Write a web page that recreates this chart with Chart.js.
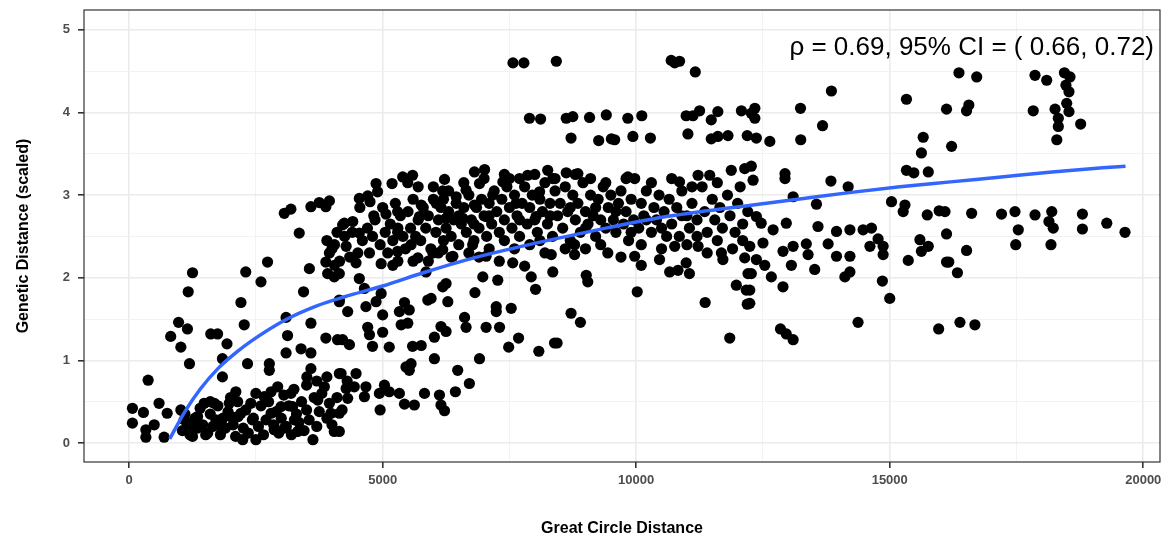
<!DOCTYPE html>
<html>
<head>
<meta charset="utf-8">
<script src="https://cdn.jsdelivr.net/npm/chart.js@4"></script>
<style>
  html, body { margin: 0; padding: 0; background: #fff; }
  #wrap { width: 1170px; height: 540px; }
</style>
</head>
<body>
<div id="wrap"><canvas id="ibd" width="1170" height="540"></canvas></div>
<script>
// great circle distance vs scaled genetic distance, one pair per population pair
const pairs = [
  [65,0.42],[65,0.24],[282,0.37],[330,0.16],[330,0.07],[375,0.76],[495,0.22],[590,0.48],[690,0.07],[750,0.36],
  [820,1.29],[975,1.46],[1020,1.16],[1150,1.38],[1165,1.83],[1190,0.96],[1250,2.06],[1020,0.40],[1085,0.28],[1215,0.20],
  [1250,0.08],[1350,0.32],[1480,0.48],[1510,0.10],[1610,1.32],[1745,1.32],[1680,0.48],[1710,0.28],[1810,0.20],[1840,1.02],
  [1840,0.80],[1930,1.20],[1975,0.48],[2010,0.32],[2105,0.62],[2140,0.50],[2205,1.70],[2240,0.04],[2270,1.43],[2300,2.07],
  [2335,0.96],[2205,0.36],[2400,0.48],[2430,0.28],[2500,0.04],[2600,1.95],[2665,0.56],[2730,2.19],[2765,0.96],[2765,0.88],
  [2800,0.36],[2860,0.16],[2930,0.68],[2995,0.44],[3060,0.18],[3095,1.52],[3095,1.09],[3125,1.30],[3190,0.60],[3225,0.44],
  [3260,0.28],[3325,0.14],[3390,1.14],[3440,1.83],[3505,0.80],[3555,2.11],[3585,1.45],[3585,1.09],[3585,0.90],[3625,0.04],
  [3720,0.52],[3850,0.68],[3880,2.19],[3880,1.27],[3915,2.05],[3980,0.36],[4045,2.01],[4045,0.14],[4110,1.25],[4145,0.84],
  [4145,1.71],
  [1050,0.15],[1100,0.35],[1150,0.25],[1200,0.10],[1300,0.30],[1350,0.18],[1400,0.42],[1450,0.22],[1550,0.12],[1600,0.35],
  [1650,0.20],[1750,0.45],[1800,0.10],[1850,0.30],[1900,0.18],[1950,0.38],[2050,0.22],[2100,0.08],[2150,0.32],[2250,0.18],
  [2300,0.40],[2350,0.12],[2450,0.30],[2550,0.20],[2600,0.45],[2650,0.10],[2700,0.28],[2750,0.50],[2850,0.22],[2900,0.38],
  [2950,0.12],[3000,0.30],[3100,0.20],[3150,0.45],[3200,0.10],[3300,0.35],[3350,0.25],[3400,0.50],[3450,0.15],[3500,0.40],
  [3550,0.28],[3650,0.55],[3700,0.20],[3750,0.38],[3800,0.60],[3900,0.30],[3950,0.48],[4000,0.22],[4100,0.55],[4200,0.40],
  [1600,0.50],[2000,0.55],[2500,0.60],[2800,0.62],[3050,0.58],[3250,0.65],[3500,0.70],[3700,0.75],[3900,0.80],[4300,0.75],
  [3060,2.78],[3190,2.83],[3585,2.86],[3750,2.91],[3950,2.93],[3880,2.86],[3355,2.54],[4210,2.64],
  [3900,2.45],[4000,2.35],[4100,2.55],[4050,2.15],[3950,2.30],[4050,2.40],[4150,2.20],[4250,2.50],[4400,2.55],[4350,2.25],
  [4550,2.85],[4750,2.92],
  [7570,4.60],[7785,4.60],[8425,4.62],[7895,3.93],[8115,3.92],[4245,2.66],[4410,2.68],[4540,2.54],[4540,2.96],[4705,2.99],
  [4870,3.14],[4900,3.04],[5185,3.14],[5395,3.22],[5590,3.24],[5495,3.15],[4825,2.75],[5065,2.77],[5295,2.80],[5295,2.55],
  [6220,3.19],[6185,3.05],[6810,3.28],[7010,3.31],[6910,3.14],[7370,3.16],[7500,3.20],[7860,3.24],[8255,3.30],[8355,3.20],
  [5760,2.88],[6055,2.90],[6450,2.98],[6645,3.06],[6810,2.88],[7170,3.00],[5725,2.74],[6250,2.72],[6580,2.72],[7040,2.74],
  [7630,2.90],[8095,3.04],[8025,2.74],
  [4280,2.38],[4510,2.30],[4740,2.30],[4475,2.18],[4970,2.17],[5295,2.32],[5200,2.15],[5560,2.40],[5695,2.24],[5855,2.07],
  [5990,2.30],[6185,2.34],[6385,2.26],[6775,2.40],[7040,2.26],[6975,2.01],[7270,1.97],[7565,2.18],[7800,2.14],[7930,2.01],
  [8015,1.86],[8325,2.28],[8355,2.07],[4145,2.05],[4145,1.73],[4310,1.59],[4540,1.99],[4640,1.87],[4670,1.65],[4870,1.71],
  [4970,1.81],[5000,1.55],[4705,1.40],[4740,1.31],[5000,1.34],[4800,1.17],[5130,1.16],[4210,1.25],[4345,1.19],[5330,1.59],
  [5430,1.70],[5525,1.61],[5365,1.43],[5495,1.45],[5590,1.17],[5760,1.18],[5890,1.73],[5955,1.75],[6185,1.89],[6250,1.93],
  [6285,1.71],[6020,1.28],[6150,1.41],[6250,1.35],[6020,1.02],[5460,0.92],[5560,0.96],[5525,0.88],[6480,0.88],[6615,1.52],
  [6645,1.40],[6820,1.82],[6910,1.02],[6710,0.72],[6435,0.62],[6120,0.58],[6150,0.46],[6220,0.39],[5825,0.60],[5625,0.46],
  [5430,0.47],[5330,0.60],[5130,0.62],[5035,0.70],[4935,0.60],[4950,0.40],[4670,0.68],[4640,0.56],[4475,0.84],[4440,0.68],
  [4280,0.66],[4310,0.54],[4180,0.84],[4145,0.36],[4145,0.14],[7040,1.40],[7305,1.40],[7240,1.65],[7240,1.59],[7535,1.63],
  [7485,1.16],[7680,1.27],[8080,1.11],[8390,1.21],
  [10690,4.63],[10855,4.62],[10760,4.60],[11165,4.49],[8620,3.93],[8750,3.95],[9080,3.94],[9410,3.97],[9835,3.93],[10110,3.96],
  [10985,3.96],[11120,3.96],[11250,4.02],[11480,3.91],[11610,4.01],[12075,4.02],[12270,3.99],[8715,3.69],[9260,3.66],[9510,3.68],
  [9575,3.67],[9935,3.71],[10280,3.69],[11020,3.74],[11480,3.68],[11610,3.71],[11810,3.72],[12190,3.72],[8620,3.27],[8850,3.26],
  [9835,3.22],[9970,3.20],[10855,3.16],[11220,3.24],[11450,3.24],[11875,3.30],[12140,3.32],[12270,3.35],
  [8785,2.40],[8785,2.28],[9015,2.03],[9045,1.95],[8715,1.57],[8900,1.46],[8440,1.21],[9440,2.30],[9970,2.26],[10100,2.15],
  [10020,1.83],[10460,2.22],[10660,2.07],[10825,2.09],[10985,2.18],[11050,2.05],[10760,2.38],[11220,2.38],[11360,1.70],[11680,2.30],
  [11710,2.22],[11845,1.27],[11975,1.91],[12170,1.85],[12190,1.68],[12140,2.24],[12205,2.05],[12240,2.38],
  [12340,4.05],[12340,3.93],[12370,3.69],[12635,3.65],[13240,4.05],[13850,4.26],[13675,3.84],[13245,3.67],[12305,3.18],[12935,3.26],
  [12935,3.20],[13840,3.17],[14180,3.10],[13095,2.98],[13555,2.89],[15330,4.16],[15660,3.70],[15625,3.51],[15330,3.30],[15475,3.27],
  [15760,3.28],[15035,2.92],[15300,2.88],[15265,2.80],[15740,2.76],[15975,2.81],[16120,2.53],[12370,2.74],[12465,2.66],[12700,2.58],
  [12960,2.66],[13585,2.62],[13950,2.56],[14215,2.58],[14475,2.58],[14640,2.60],[14770,2.47],[15595,2.46],
  [12500,2.42],[12370,2.22],[12535,2.15],[12665,2.01],[12895,1.89],[12270,2.05],[12240,1.85],[12240,1.69],[12895,2.32],[13060,2.15],
  [13095,2.38],[13390,2.28],[13520,2.10],[13355,2.41],[13785,2.41],[13950,2.26],[14215,2.26],[14115,2.01],[14215,2.07],[14610,2.38],
  [14870,2.38],[14870,2.28],[14855,1.96],[15000,1.75],[15365,2.21],[15625,2.32],[15760,2.38],[16120,2.19],[12845,1.38],[12960,1.32],
  [13095,1.25],[14375,1.46],[15965,1.38],
  [16365,4.48],[16715,4.43],[17865,4.45],[18095,4.39],[18445,4.48],[18555,4.43],[18475,4.33],[18535,4.25],[16120,4.04],[16515,4.02],
  [16560,4.09],[17830,4.02],[18260,4.04],[18490,4.11],[18535,4.01],[18325,3.93],[18325,3.83],[18765,3.86],[18295,3.67],[16220,3.59],
  [16615,2.78],[17205,2.77],[17470,2.80],[17865,2.76],[18195,2.80],[18140,2.68],[18225,2.60],[17535,2.58],[18800,2.77],[18800,2.59],
  [19280,2.66],[19640,2.55],[16090,2.80],
  [17485,2.40],[18180,2.40],[16515,2.33],[16165,2.19],[16335,2.06],[16385,1.46],[16680,1.43],
  // the crowded band between 4500 and 12300 km
  [4600,2.45],[4700,2.60],[4800,2.50],[4850,2.70],[4950,2.40],[5000,2.85],[5050,2.55],[5100,2.30],[5150,2.65],[5200,2.45],
  [5250,2.90],[5300,2.60],[5350,2.75],[5400,2.50],[5450,2.35],[5500,2.80],[5550,2.60],[5600,2.95],[5650,2.50],[5700,2.70],
  [5750,2.45],[5800,2.85],[5850,2.60],[5900,2.75],[5950,2.35],[6000,2.95],[6050,2.55],[6100,2.70],[6150,2.85],[6200,2.45],
  [6250,2.60],[6300,2.80],[6350,2.50],[6400,2.70],[6450,2.90],[6500,2.40],[6550,2.65],[6600,2.85],[6650,2.55],[6700,3.00],
  [6750,2.70],[6800,2.45],[6850,2.85],[6900,2.60],[6950,2.95],[7000,2.75],[7050,2.50],[7100,2.90],[7150,2.65],[7200,3.05],
  [7250,2.80],[7300,2.55],[7350,2.95],[7400,2.70],[7450,3.10],[7500,2.85],[7550,2.60],[7600,3.00],[7650,2.75],[7700,2.50],
  [7750,2.90],[7800,3.10],[7850,2.65],[7900,2.85],[7950,3.00],[8000,2.70],[8050,2.55],[8100,2.95],[8150,2.80],[8200,3.15],
  [8250,2.65],[8300,2.90],[8350,2.50],[8400,3.05],[8450,2.75],[8500,2.90],[8550,2.60],[8600,3.10],[8650,2.80],[8700,2.45],
  [8750,3.00],[8800,2.70],[8850,2.90],[8900,2.55],[8950,3.15],[9000,2.80],[9050,2.65],[9100,3.00],[9150,2.75],[9200,2.50],
  [9250,2.95],[9300,2.70],[9350,3.10],[9400,2.60],[9450,2.85],[9500,3.00],[9550,2.70],[9600,2.55],[9650,2.90],[9700,3.05],
  [9750,2.65],[9800,2.80],[9850,2.45],[9900,2.95],[9950,2.70],[10050,2.60],[10100,2.90],[10150,2.75],[10200,3.05],[10300,2.55],
  [10350,2.85],[10400,2.70],[10450,3.00],[10500,2.60],[10550,2.80],[10650,2.95],[10700,2.65],[10800,2.85],[10850,2.50],[10900,3.05],
  [11000,2.75],[11050,2.60],[11100,2.90],[11200,2.70],[11300,3.10],[11350,2.80],[11400,2.55],[11500,2.95],[11550,2.70],[11650,2.85],
  [11700,2.60],[11800,3.00],[11850,2.75],[11950,2.55],[12000,2.90],[12100,2.65],[12200,2.80],
  [5600,2.20],[5900,2.20],[6100,2.30],[6350,2.25],[6700,2.30],[6900,2.25],[7100,2.35],[7300,2.20],[7600,2.35],[7900,2.40],
  [8200,2.30],[8600,2.35],[9000,2.35],[9300,2.40],[9700,2.25],[10100,2.40],[10500,2.35],[11000,2.40],[11400,2.30],[11900,2.35],
  [6000,3.10],[6300,3.05],[6600,3.15],[7000,3.20],[7400,3.25],[7700,3.20],[8000,3.25],[8400,3.20],[8800,3.25],[9100,3.20],
  [9400,3.15],[9800,3.20],[10300,3.15],[10700,3.20],[11100,3.10],[11600,3.15],[12050,3.10],
  [5300,2.20],[5700,3.10],[6200,2.95],[6500,2.75],[6800,2.65],[7100,2.75],[7400,2.45],[7700,2.70],[8100,2.45],[8300,2.75],
  [8700,2.85],[9000,2.60],[9200,2.85],[9600,2.80],[9900,2.55],[10200,2.70],[10600,2.50],[10900,2.75],[11200,2.50],[11600,2.45],
  [12100,2.45]
];

// fitted trend
const fitX = [800, 1100, 1400, 1750, 2100, 2400, 3050, 3700, 4250, 5000, 5800, 6800, 7600, 8400, 9400, 10400, 11400, 12300, 13300, 14200, 15200, 16200, 17200, 18200, 19200, 19650];
const fitY = [0.05, 0.38, 0.65, 0.90, 1.09, 1.23, 1.48, 1.66, 1.77, 1.90, 2.06, 2.24, 2.36, 2.47, 2.60, 2.72, 2.81, 2.88, 2.96, 3.03, 3.10, 3.16, 3.22, 3.28, 3.33, 3.35];

const xGrid = [0, 2500, 5000, 7500, 10000, 12500, 15000, 17500, 20000];
const xTicks = [0, 5000, 10000, 15000, 20000];
const yGrid = [0, 0.5, 1, 1.5, 2, 2.5, 3, 3.5, 4, 4.5, 5];
const yTicks = [0, 1, 2, 3, 4, 5];

const corrLabel = "\u03c1 = 0.69, 95% CI = ( 0.66, 0.72)";

const isMajor = (v, list) => list.includes(v);

// panel border and correlation label
const panelExtras = {
  id: "panelExtras",
  afterDraw(chart) {
    const { ctx, chartArea: a } = chart;
    ctx.save();
    ctx.strokeStyle = "#333333";
    ctx.lineWidth = 1.2;
    ctx.strokeRect(a.left, a.top, a.right - a.left, a.bottom - a.top);
    ctx.fillStyle = "#000";
    ctx.font = "26px 'Liberation Sans', Arial, sans-serif";
    ctx.textAlign = "right";
    ctx.textBaseline = "middle";
    ctx.fillText(corrLabel, a.right - 6, a.top + 38);
    ctx.restore();
  },
};

const gridOpts = (list) => ({
  color: (c) => (c.tick && isMajor(c.tick.value, list) ? "#ebebeb" : "#f2f2f2"),
  lineWidth: (c) => (c.tick && isMajor(c.tick.value, list) ? 1.6 : 0.9),
  tickColor: (c) => (c.tick && isMajor(c.tick.value, list) ? "#333333" : "rgba(0,0,0,0)"),
  tickLength: 6,
  drawTicks: true,
});

const tickFont = { family: "'Liberation Sans', Arial, sans-serif", size: 13, weight: "bold" };
const titleFont = { family: "'Liberation Sans', Arial, sans-serif", size: 16, weight: "bold" };

new Chart(document.getElementById("ibd").getContext("2d"), {
  type: "scatter",
  data: {
    datasets: [
      {
        type: "line",
        data: fitX.map((x, i) => ({ x: x, y: fitY[i] })),
        borderColor: "#3366ff",
        borderWidth: 3.5,
        pointRadius: 0,
        tension: 0.4,
        cubicInterpolationMode: "monotone",
        fill: false,
      },
      {
        data: pairs.map((p) => ({ x: p[0], y: p[1] })),
        backgroundColor: "#000",
        borderWidth: 0,
        pointRadius: 5.6,
      },
    ],
  },
  options: {
    responsive: false,
    animation: false,
    layout: { padding: { top: 10, right: 10, left: 0, bottom: 0 } },
    plugins: { legend: { display: false }, tooltip: { enabled: false } },
    scales: {
      x: {
        type: "linear",
        min: -890,
        max: 20330,
        afterBuildTicks: (s) => { s.ticks = xGrid.map((v) => ({ value: v })); },
        afterFit: (s) => { s.height = 78; s.paddingLeft = 0; s.paddingRight = 0; },
        grid: gridOpts(xTicks),
        border: { display: false },
        ticks: {
          autoSkip: false,
          maxRotation: 0,
          padding: 5,
          color: "#4d4d4d",
          font: tickFont,
          callback: (v) => (isMajor(v, xTicks) ? String(v) : ""),
        },
        title: {
          display: true,
          text: "Great Circle Distance",
          color: "#000",
          font: titleFont,
          padding: { top: 0, bottom: 2 },
        },
      },
      y: {
        type: "linear",
        min: -0.23,
        max: 5.24,
        afterBuildTicks: (s) => { s.ticks = yGrid.map((v) => ({ value: v })); },
        afterFit: (s) => { s.width = 84; s.paddingTop = 0; s.paddingBottom = 0; },
        grid: gridOpts(yTicks),
        border: { display: false },
        ticks: {
          autoSkip: false,
          padding: 8,
          color: "#4d4d4d",
          font: tickFont,
          callback: (v) => (isMajor(v, yTicks) ? String(v) : ""),
        },
        title: {
          display: true,
          text: "Genetic Distance (scaled)",
          color: "#000",
          font: titleFont,
          padding: { top: 14, bottom: 0 },
        },
      },
    },
  },
  plugins: [panelExtras],
});
</script>
</body>
</html>
